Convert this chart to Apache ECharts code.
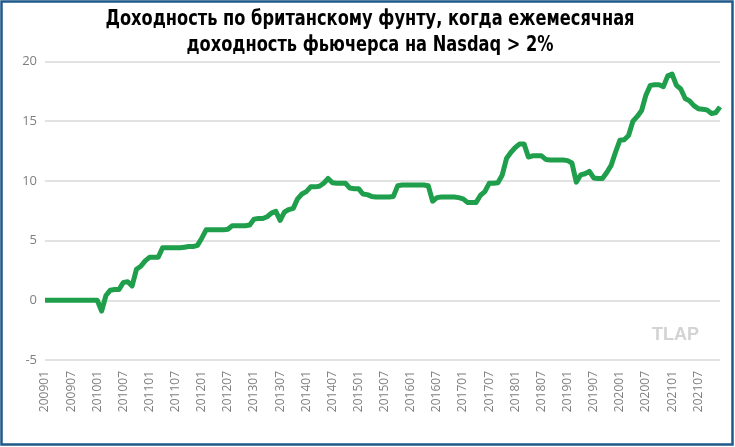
<!DOCTYPE html>
<html>
<head>
<meta charset="utf-8">
<title>GBP / Nasdaq</title>
<script src="https://cdn.jsdelivr.net/npm/echarts@6/dist/echarts.min.js"></script>
<style>
	html, body {margin: 0; padding: 0; background: #fff;}
	#chart {width: 735px; height: 447px;}
</style>
</head>
<body>
<div id="chart"></div>
<script>
// месяцы 200901 .. 202112
var months = [];
for (var y = 2009; y <= 2021; y++) {
	for (var m = 1; m <= 12; m++) {
		months.push('' + y + (m < 10 ? '0' + m : m));
	}
}

// накопленная доходность, %
var gbpReturn = [
	0, 0, 0, 0, 0, 0, 0, 0, 0, 0, 0, 0,                      // 2009
	0, -0.9, 0.4, 0.85, 0.9, 0.9, 1.5, 1.55, 1.2, 2.6, 2.85, 3.3, // 2010
	3.6, 3.6, 3.6, 4.4, 4.4, 4.4, 4.4, 4.4, 4.45, 4.5, 4.5, 4.6,  // 2011
	5.2, 5.9, 5.9, 5.9, 5.9, 5.9, 5.95, 6.25, 6.25, 6.25, 6.25, 6.3, // 2012
	6.8, 6.85, 6.85, 7.0, 7.3, 7.45, 6.7, 7.4, 7.6, 7.7, 8.5, 8.9,  // 2013
	9.1, 9.5, 9.5, 9.55, 9.8, 10.2, 9.85, 9.8, 9.8, 9.8, 9.4, 9.35, // 2014
	9.35, 8.9, 8.85, 8.7, 8.65, 8.65, 8.65, 8.65, 8.7, 9.6, 9.65, 9.65, // 2015
	9.65, 9.65, 9.65, 9.65, 9.6, 8.3, 8.6, 8.65, 8.65, 8.65, 8.65, 8.6, // 2016
	8.5, 8.2, 8.2, 8.2, 8.8, 9.1, 9.8, 9.8, 9.85, 10.5, 11.9, 12.4,     // 2017
	12.8, 13.1, 13.1, 12.0, 12.1, 12.1, 12.1, 11.8, 11.75, 11.75, 11.75, 11.75, // 2018
	11.7, 11.5, 9.9, 10.5, 10.6, 10.8, 10.25, 10.2, 10.2, 10.7, 11.3, 12.4,  // 2019
	13.4, 13.45, 13.8, 15.0, 15.4, 15.9, 17.2, 18.0, 18.05, 18.05, 17.9, 18.8, // 2020
	18.95, 18.0, 17.7, 16.9, 16.7, 16.3, 16.05, 16.0, 15.95, 15.65, 15.7, 16.2  // 2021
];

var yTicks = [-5, 0, 5, 10, 15, 20];

var titleLines = [
	'Доходность по британскому фунту, когда ежемесячная',
	'доходность фьючерса на Nasdaq > 2%'
];

var myChart = echarts.init(document.getElementById('chart'));

// заголовок узким жирным шрифтом (сжимаем по горизонтали)
function titleText(str, top) {
	return {
		type: 'text',
		x: 370,
		y: top,
		scaleX: 0.82,
		silent: true,
		style: {
			text: str,
			align: 'center',
			verticalAlign: 'top',
			fontFamily: '"DejaVu Sans Condensed", "DejaVu Sans", sans-serif',
			fontWeight: 'bold',
			fontSize: 22,
			fill: '#000'
		}
	};
}

var option = {
	animation: false,
	backgroundColor: '#fff',
	grid: {
		left: 45,
		right: 15,
		top: 61.5,
		bottom: 87
	},
	xAxis: {
		type: 'category',
		data: months,
		boundaryGap: false,
		axisLine: {show: false},
		axisTick: {show: false},
		axisLabel: {
			interval: 5,
			rotate: 90,
			margin: 11,
			fontSize: 12,
			fontFamily: '"Open Sans", sans-serif',
			color: '#7f7f7f'
		}
	},
	yAxis: {
		type: 'value',
		min: yTicks[0],
		max: yTicks[yTicks.length - 1],
		interval: 5,
		axisLine: {show: false},
		axisTick: {show: false},
		axisLabel: {
			margin: 8,
			fontSize: 13,
			fontFamily: '"Open Sans", sans-serif',
			color: '#7f7f7f'
		},
		splitLine: {
			lineStyle: {color: '#d9d9d9', width: 1.5}
		}
	},
	series: [{
		type: 'line',
		data: gbpReturn,
		symbol: 'none',
		lineStyle: {color: '#1f9e4c', width: 5, join: 'round'}
	}],
	graphic: [
		titleText(titleLines[0], 8),
		titleText(titleLines[1], 34),
		{ // рамка
			type: 'rect',
			shape: {x: 1.5, y: 1.5, width: 731, height: 443},
			style: {fill: 'none', stroke: '#1f5a8a', lineWidth: 2.5},
			silent: true
		},
		{ // водяной знак
			type: 'text',
			left: 652,
			top: 326,
			style: {
				text: 'TLAP',
				fontSize: 18,
				fontWeight: 'bold',
				fontFamily: '"Liberation Sans", sans-serif',
				fill: '#d3d3d3'
			},
			silent: true
		}
	]
};

myChart.setOption(option);
</script>
</body>
</html>
